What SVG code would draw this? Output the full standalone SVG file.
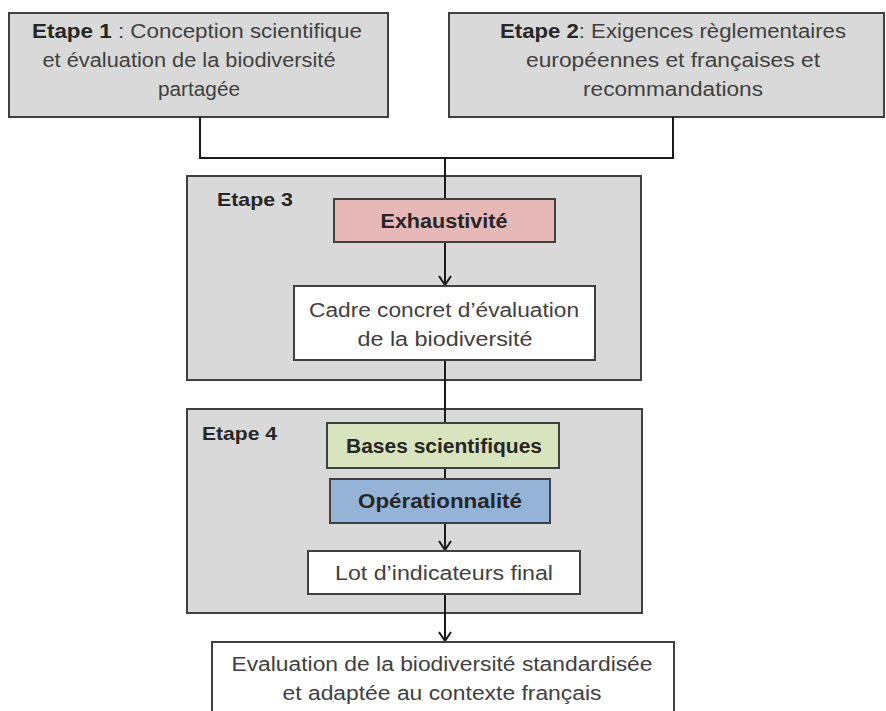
<svg xmlns="http://www.w3.org/2000/svg" width="886" height="711" viewBox="0 0 886 711">
<defs>
<style>
.step{fill:#d9d9d9;stroke:#404040;stroke-width:2}
.white{fill:#ffffff;stroke:#404040;stroke-width:2}
.t{font-family:"Liberation Sans",Arial,sans-serif;font-size:20px;fill:#404040;text-anchor:middle}
.b{font-weight:bold;fill:#262626}
.lbl{font-family:"Liberation Sans",Arial,sans-serif;font-size:19px;font-weight:bold;fill:#262626}
.c{fill:none;stroke:#1a1a1a;stroke-width:2}
</style>
<marker id="arr" viewBox="0 0 12 14" refX="10" refY="7" markerWidth="12" markerHeight="14" markerUnits="userSpaceOnUse" orient="auto">
<path d="M1,1 L10,7 L1,13" fill="none" stroke="#1a1a1a" stroke-width="2"/>
</marker>
</defs>
<g id="step1">
<rect class="step" x="9" y="13" width="379" height="104"/>
<text class="t" x="197" y="38" textLength="330" lengthAdjust="spacingAndGlyphs"><tspan class="b">Etape 1</tspan> : Conception scientifique</text>
<text class="t" x="189" y="67" textLength="293" lengthAdjust="spacingAndGlyphs">et évaluation de la biodiversité</text>
<text class="t" x="199" y="96" textLength="82" lengthAdjust="spacingAndGlyphs">partagée</text>
</g>
<g id="step2">
<rect class="step" x="449" y="13" width="435" height="104"/>
<text class="t" x="673" y="38" textLength="346" lengthAdjust="spacingAndGlyphs"><tspan class="b">Etape 2</tspan>: Exigences règlementaires</text>
<text class="t" x="673" y="67" textLength="294" lengthAdjust="spacingAndGlyphs">européennes et françaises et</text>
<text class="t" x="673" y="96" textLength="180" lengthAdjust="spacingAndGlyphs">recommandations</text>
</g>
<g id="step3">
<rect class="step" x="187" y="176" width="454" height="204"/>
<text class="lbl" x="217" y="206" textLength="76" lengthAdjust="spacingAndGlyphs">Etape 3</text>
</g>
<g id="step4">
<rect class="step" x="187" y="409" width="455" height="204"/>
<text class="lbl" x="202" y="440" textLength="75" lengthAdjust="spacingAndGlyphs">Etape 4</text>
</g>
<g id="connectors">
<polyline class="c" points="200,117 200,158 673,158 673,117"/>
<line class="c" x1="445" y1="158" x2="445" y2="199"/>
<line class="c" x1="445" y1="242" x2="445" y2="285" marker-end="url(#arr)"/>
<line class="c" x1="445" y1="360" x2="445" y2="423"/>
<line class="c" x1="445" y1="468" x2="445" y2="479"/>
<line class="c" x1="445" y1="523" x2="445" y2="550" marker-end="url(#arr)"/>
<line class="c" x1="445" y1="594" x2="445" y2="641" marker-end="url(#arr)"/>
</g>
<g id="exhaustivite">
<rect x="334" y="199" width="221" height="43" fill="#e6b9b8" stroke="#404040" stroke-width="2"/>
<text class="t b" x="444" y="228" textLength="127" lengthAdjust="spacingAndGlyphs">Exhaustivité</text>
</g>
<g id="cadre">
<rect class="white" x="294" y="286" width="301" height="74"/>
<text class="t" x="444" y="317" textLength="270" lengthAdjust="spacingAndGlyphs">Cadre concret d’évaluation</text>
<text class="t" x="445" y="346" textLength="175" lengthAdjust="spacingAndGlyphs">de la biodiversité</text>
</g>
<g id="bases">
<rect x="327" y="423" width="232" height="45" fill="#d7e4bd" stroke="#404040" stroke-width="2"/>
<text class="t b" x="444" y="453" textLength="196" lengthAdjust="spacingAndGlyphs">Bases scientifiques</text>
</g>
<g id="operationnalite">
<rect x="330" y="479" width="220" height="44" fill="#95b3d7" stroke="#404040" stroke-width="2"/>
<text class="t b" x="440" y="508" textLength="164" lengthAdjust="spacingAndGlyphs">Opérationnalité</text>
</g>
<g id="lot">
<rect class="white" x="308" y="551" width="272" height="43"/>
<text class="t" x="444" y="580" textLength="218" lengthAdjust="spacingAndGlyphs">Lot d’indicateurs final</text>
</g>
<g id="evaluation">
<rect class="white" x="212" y="642" width="462" height="80"/>
<text class="t" x="442" y="671" textLength="421" lengthAdjust="spacingAndGlyphs">Evaluation de la biodiversité standardisée</text>
<text class="t" x="442" y="700" textLength="319" lengthAdjust="spacingAndGlyphs">et adaptée au contexte français</text>
</g>
</svg>
